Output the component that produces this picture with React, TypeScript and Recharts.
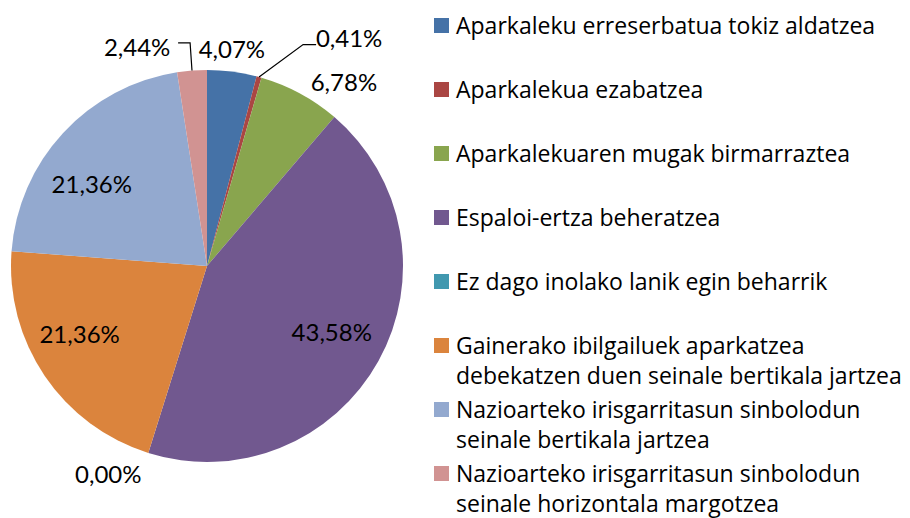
import React from 'react';
import { PieChart, Pie, Cell, Legend } from 'recharts';

const categories = [
  'Aparkaleku erreserbatua tokiz aldatzea',
  'Aparkalekua ezabatzea',
  'Aparkalekuaren mugak birmarraztea',
  'Espaloi-ertza beheratzea',
  'Ez dago inolako lanik egin beharrik',
  'Gainerako ibilgailuek aparkatzea debekatzen duen seinale bertikala jartzea',
  'Nazioarteko irisgarritasun sinbolodun seinale bertikala jartzea',
  'Nazioarteko irisgarritasun sinbolodun seinale horizontala margotzea',
];
const percentages = [4.07, 0.41, 6.78, 43.58, 0.0, 21.36, 21.36, 2.44];
const colors = ['#4572A7', '#AA4643', '#89A54E', '#71588F', '#4198AF', '#DB843D', '#93A9CF', '#D19392'];

const data = categories.map((name, i) => ({ name, value: percentages[i] }));

const LABEL_FONT = 'Lato, "Open Sans", sans-serif';
const LEGEND_FONT = '"Open Sans", Lato, sans-serif';
const RAD = Math.PI / 180;

// label placement adjustments (best-fit style): angle delta (deg, clockwise) and radius delta from outer radius
const labelAdjust = [
  { dA: -0.8, dR: 23 },
  { dA: 16.5, dR: 73 },
  { dA: 8.2, dR: 34 },
  { dA: -1.2, dR: -55 },
  { dA: 8.0, dR: 34 },
  { dA: 6.3, dR: -52 },
  { dA: -7.0, dR: -54 },
  { dA: -13.3, dR: 34 },
];

const fmt = (v: number) => v.toFixed(2).replace('.', ',') + '%';

const renderLabel = (props: any) => {
  const { cx, cy, midAngle, outerRadius, index, value } = props;
  const adj = labelAdjust[index];
  const theta = 90 - midAngle + adj.dA;
  const r = outerRadius + adj.dR;
  const x = cx + r * Math.sin(theta * RAD);
  const y = cy - r * Math.cos(theta * RAD);
  const ex = cx + outerRadius * Math.sin((90 - midAngle) * RAD);
  const ey = cy - outerRadius * Math.cos((90 - midAngle) * RAD);
  let leader: React.ReactNode = null;
  if (index === 1) {
    leader = (
      <polyline
        points={`${ex},${ey} ${x - 46},${y + 7} ${x - 33},${y + 7}`}
        fill="none"
        stroke="#000"
        strokeWidth={1.2}
      />
    );
  } else if (index === 7) {
    leader = (
      <polyline
        points={`${ex},${ey} ${x + 53},${y - 4} ${x + 41},${y - 4}`}
        fill="none"
        stroke="#000"
        strokeWidth={1.2}
      />
    );
  }
  return (
    <g key={`lbl-${index}`}>
      {leader}
      <text
        x={x}
        y={y}
        textAnchor="middle"
        dominantBaseline="central"
        fill="#000"
        fontFamily={LABEL_FONT}
        fontSize={24}
      >
        {fmt(value)}
      </text>
    </g>
  );
};

const renderLegend = (props: any) => {
  const { payload } = props;
  return (
    <div style={{ fontFamily: LEGEND_FONT }}>
      {(payload || []).map((entry: any, i: number) => (
        <div key={i} style={{ height: 64, display: 'flex', alignItems: 'flex-start' }}>
          <div
            style={{
              width: 15,
              height: 15,
              marginTop: 8,
              background: entry.color,
              flex: '0 0 auto',
            }}
          />
          <div
            style={{
              marginLeft: 7,
              width: 470,
              fontSize: 23,
              lineHeight: '30px',
              color: '#000',
            }}
          >
            {entry.value}
          </div>
        </div>
      ))}
    </div>
  );
};

export default function App() {
  return (
    <div style={{ position: 'absolute', left: 0, top: 0, width: 910, height: 518, background: '#fff', overflow: 'hidden' }}>
      <PieChart width={910} height={518} margin={{ top: 0, right: 0, bottom: 0, left: 0 }}>
        <Pie
          data={data}
          dataKey="value"
          nameKey="name"
          cx={207}
          cy={266}
          outerRadius={196}
          startAngle={90}
          endAngle={-270}
          stroke="none"
          isAnimationActive={false}
          label={renderLabel}
          labelLine={false}
        >
          {data.map((d, i) => (
            <Cell key={d.name} fill={colors[i]} />
          ))}
        </Pie>
        <Legend
          layout="vertical"
          align="right"
          verticalAlign="top"
          content={renderLegend}
          wrapperStyle={{ position: 'absolute', left: 434, top: 10, width: 476, height: 508 }}
        />
      </PieChart>
    </div>
  );
}
